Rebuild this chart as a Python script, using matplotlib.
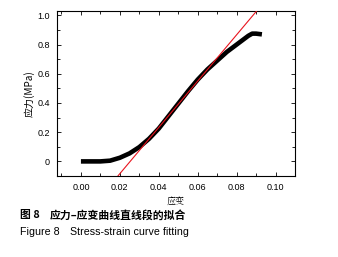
import numpy as np
import matplotlib
matplotlib.use('Agg')
import matplotlib.pyplot as plt
from matplotlib.ticker import MultipleLocator

plt.rcParams['font.family'] = ['Liberation Sans', 'Noto Sans CJK SC', 'DejaVu Sans']

strain = [0.0, 0.005, 0.01, 0.015, 0.02, 0.025, 0.03, 0.035, 0.04, 0.045,
          0.05, 0.055, 0.06, 0.065, 0.07, 0.075, 0.08, 0.083, 0.086, 0.088,
          0.09, 0.093]
stress = [0.0, 0.0, 0.0, 0.005, 0.025, 0.055, 0.098, 0.155, 0.225, 0.31,
          0.395, 0.48, 0.56, 0.63, 0.69, 0.75, 0.80, 0.83, 0.86, 0.875,
          0.875, 0.87]

# linear fit of the straight segment: stress = slope * strain + intercept
fit_slope = 15.85
fit_intercept = -0.401
fit_range = [0.015, 0.095]

fig = plt.figure(figsize=(3.38, 2.57), dpi=100)
ax = fig.add_axes([57 / 338, 1 - 176 / 257, 238 / 338, 165 / 257])

ax.plot(strain, stress, color='black', linewidth=3.3, solid_capstyle='butt', zorder=2)
fx = np.array(fit_range)
ax.plot(fx, fit_slope * fx + fit_intercept, color='#e8141e', linewidth=0.8, zorder=3)

ax.set_xlim(-0.0123, 0.11)
ax.set_ylim(-0.1, 1.03)
ax.xaxis.set_major_locator(MultipleLocator(0.02))
ax.xaxis.set_minor_locator(MultipleLocator(0.01))
ax.yaxis.set_major_locator(MultipleLocator(0.2))
ax.yaxis.set_minor_locator(MultipleLocator(0.1))
ax.set_xticks([0, 0.02, 0.04, 0.06, 0.08, 0.10])
ax.set_xticklabels(['0.00', '0.02', '0.04', '0.06', '0.08', '0.10'])
ax.set_yticks([0, 0.2, 0.4, 0.6, 0.8, 1.0])
ax.set_yticklabels(['0', '0.2', '0.4', '0.6', '0.8', '1.0'])
ax.tick_params(which='both', direction='in', top=True, right=True,
               labelsize=6.5, width=0.6, pad=5)
ax.tick_params(which='major', length=3)
ax.tick_params(which='minor', length=2)
for s in ax.spines.values():
    s.set_linewidth(0.8)

ax.set_xlabel('应变', fontsize=6.5, family=['Noto Serif CJK SC', 'Noto Sans CJK SC'],
              labelpad=3)
ax.set_ylabel('应力(MPa)', fontsize=7.2, family=['Noto Sans CJK SC', 'DejaVu Sans'],
              labelpad=2)

fig.text(20 / 338, 1 - 215 / 257, '图 8', fontsize=7.8, va='center',
         family=['Noto Sans CJK SC'], weight='bold')
fig.text(50 / 338, 1 - 215 / 257, '应力–应变曲线直线段的拟合', fontsize=7.8, va='center',
         family=['Noto Sans CJK SC', 'DejaVu Sans'], weight='bold')
fig.text(20 / 338, 1 - 232 / 257, 'Figure 8', fontsize=7.7, va='center')
fig.text(70 / 338, 1 - 232 / 257, 'Stress-strain curve fitting', fontsize=7.7, va='center')

fig.savefig('out.png', dpi=100)
